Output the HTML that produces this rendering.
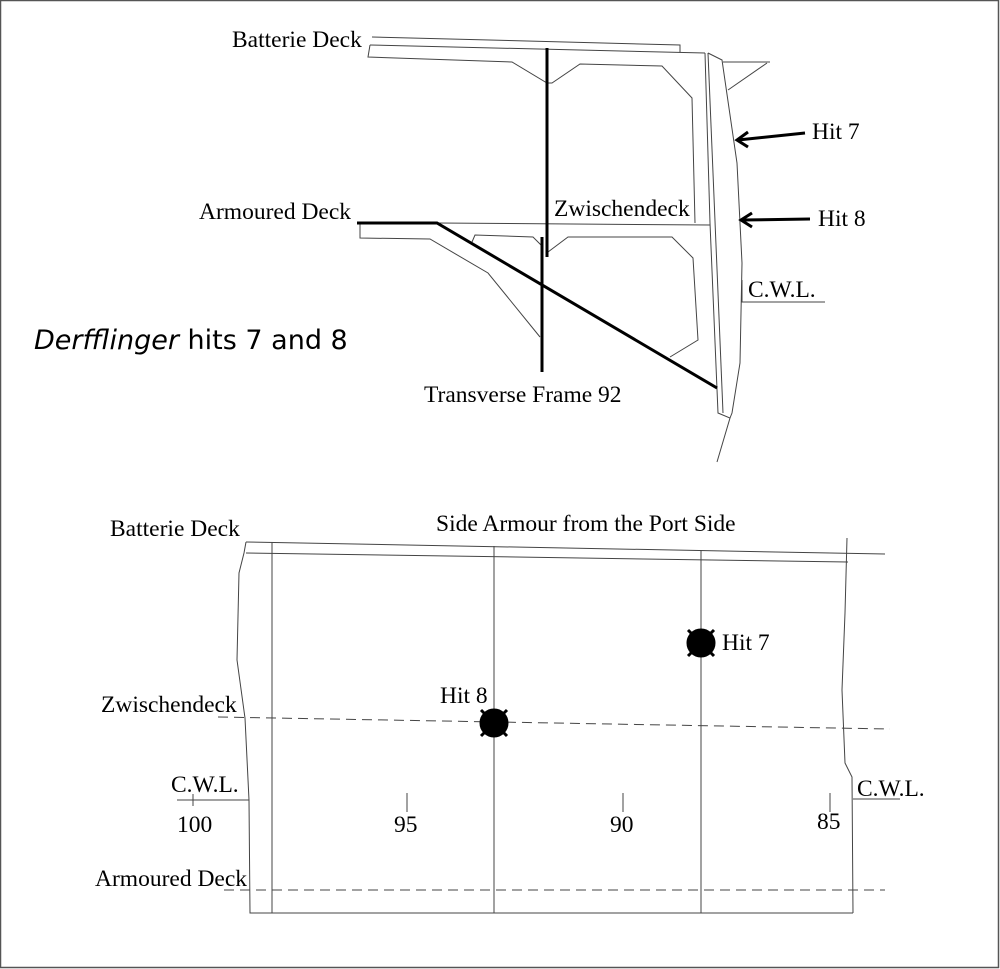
<!DOCTYPE html>
<html><head><style>
html,body{margin:0;padding:0;background:#fff;}
svg{display:block;}
text{font-family:"Liberation Serif",serif;font-size:23.5px;fill:#000;}
</style></head><body>
<svg width="1000" height="969" viewBox="0 0 1000 969">
<rect x="0.5" y="0.5" width="998" height="967" fill="#fff" stroke="#555" stroke-width="1.5"/>
<g fill="none" stroke="#444" stroke-width="1">
<polyline points="372,37 680,45 680,52"/>
<polyline points="370,45 705,53"/>
<polyline points="370,45 368,57 512,62 547,83 552,83 580,64 662,66 692,98 695,223"/>
<polyline points="705,53 710,223 718,413 730,418 717,462"/>
<polyline points="708,53 723,413"/>
<polyline points="708,53 722,60 737,163 742,263 740,363 732,413 730,418"/>
<polyline points="723,62 770,62"/>
<polyline points="728,90 767,63"/>
<polyline points="437,223 710,225"/>
<polyline points="360,223 360,238 430,239 488,273 540,337"/>
<polyline points="472,242 475,235 533,237 543,247"/>
<polyline points="548,252 568,237 672,237 693,258 698,340 670,357"/>
<polyline points="742,280 742,302 825,302"/>
</g>
<g stroke="#000" stroke-width="3" fill="none">
<line x1="547" y1="48" x2="547" y2="257"/>
<line x1="542" y1="237" x2="542" y2="372"/>
<polyline points="357,223 437,223 717,388"/>
<line x1="805" y1="133" x2="738" y2="140"/>
<polyline points="748,132 737,140 748,147"/>
<line x1="810" y1="219" x2="742" y2="220"/>
<polyline points="752,213 741,220 752,227"/>
</g>
<text x="232" y="47">Batterie Deck</text>
<text x="199" y="219">Armoured Deck</text>
<text x="554" y="216">Zwischendeck</text>
<text x="812" y="139">Hit 7</text>
<text x="818" y="226">Hit 8</text>
<text x="748" y="297">C.W.L.</text>
<text x="424" y="402">Transverse Frame 92</text>
<text x="34" y="349" style="font-family:'DejaVu Sans','Liberation Sans',sans-serif;font-size:27px;"><tspan font-style="italic">Derfflinger</tspan> hits 7 and 8</text>
<g fill="none" stroke="#444" stroke-width="1">
<polyline points="246,542 885,554"/>
<polyline points="246,553 848,562"/>
<polyline points="246,542 244,553 239,573 237,660 245,718 249,800 250,913 853,913"/>
<polyline points="847,538 845,613 842,690 845,763 852,777 853,913"/>
<line x1="272" y1="542" x2="272" y2="913"/>
<line x1="494" y1="546" x2="494" y2="913"/>
<line x1="701" y1="550" x2="701" y2="913"/>
<line x1="218" y1="717" x2="890" y2="729" stroke-dasharray="10,6"/>
<line x1="224" y1="890" x2="885" y2="890" stroke-dasharray="10,6"/>
<line x1="177" y1="800" x2="249" y2="800"/>
<line x1="193" y1="794" x2="193" y2="806"/>
<line x1="853" y1="799" x2="900" y2="799"/>
<line x1="407" y1="793" x2="407" y2="812"/>
<line x1="623" y1="793" x2="623" y2="812"/>
<line x1="830" y1="793" x2="830" y2="812"/>
</g>
<g fill="#000" stroke="#000" stroke-width="3">
<circle cx="494" cy="723" r="13"/>
<line x1="481" y1="710" x2="507" y2="736"/><line x1="507" y1="710" x2="481" y2="736"/>
<circle cx="701" cy="643" r="13"/>
<line x1="688" y1="630" x2="714" y2="656"/><line x1="714" y1="630" x2="688" y2="656"/>
</g>
<text x="110" y="536">Batterie Deck</text>
<text x="436" y="531">Side Armour from the Port Side</text>
<text x="101" y="712">Zwischendeck</text>
<text x="440" y="703">Hit 8</text>
<text x="722" y="650">Hit 7</text>
<text x="171" y="792">C.W.L.</text>
<text x="177" y="832">100</text>
<text x="394" y="832">95</text>
<text x="610" y="832">90</text>
<text x="817" y="829">85</text>
<text x="857" y="796">C.W.L.</text>
<text x="95" y="886">Armoured Deck</text>
</svg>
</body></html>
